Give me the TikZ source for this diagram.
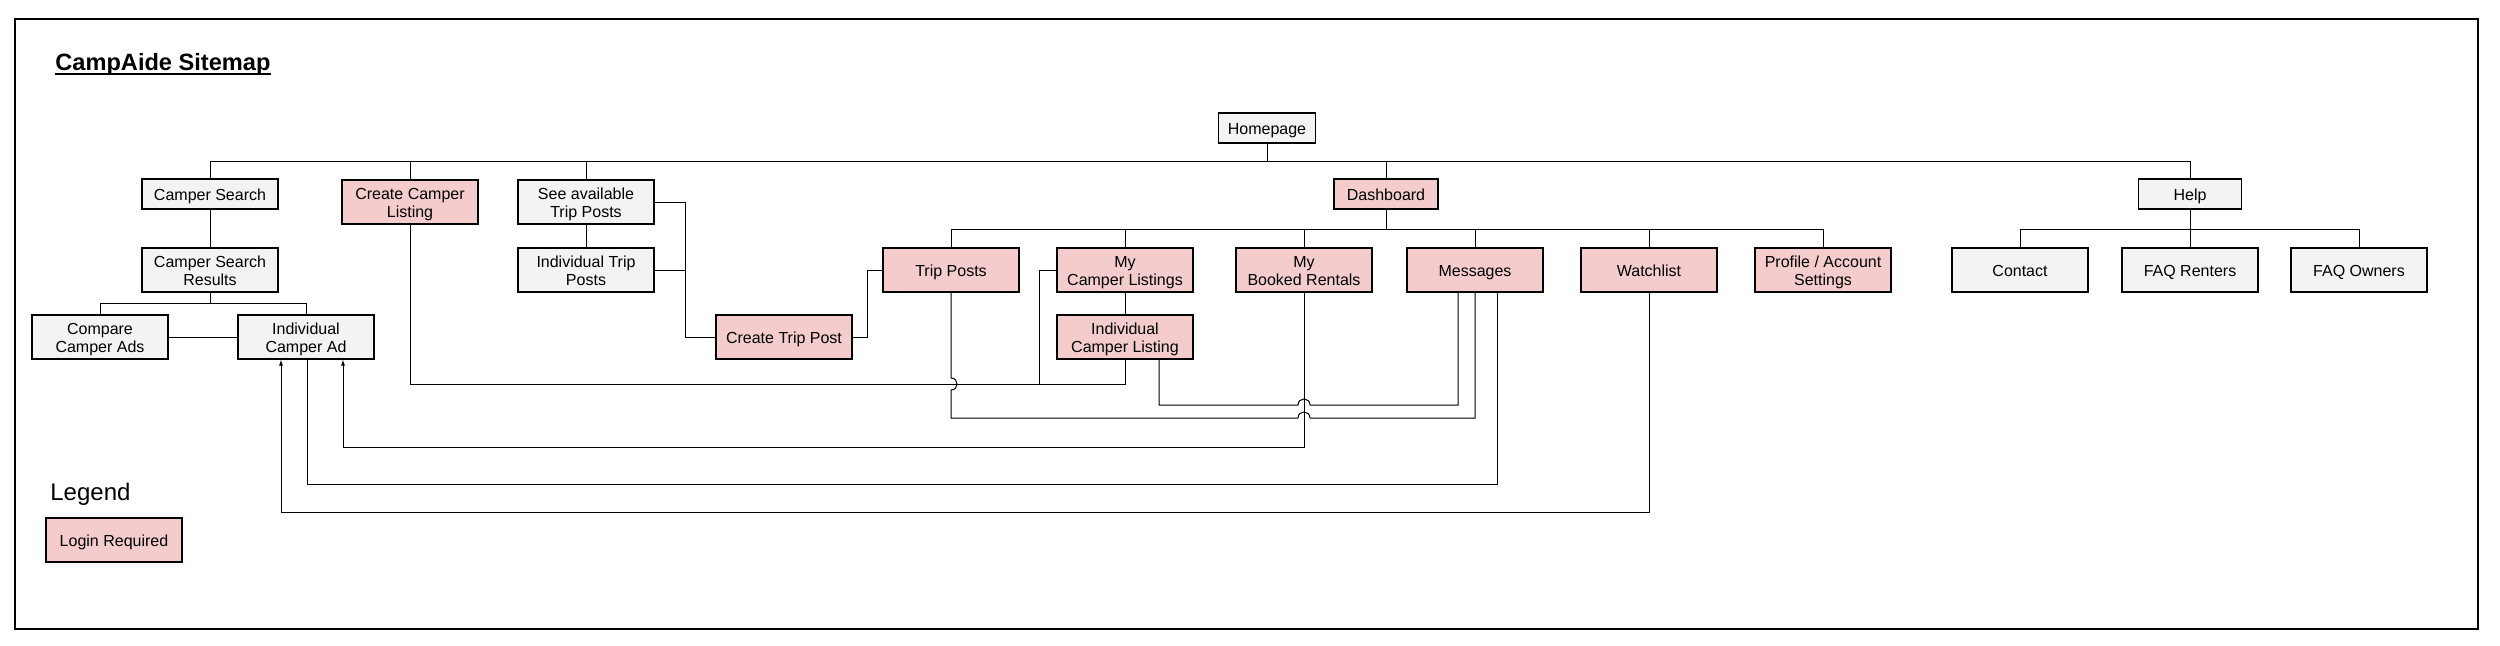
\documentclass[tikz,border=0pt]{standalone}
\usepackage{fontspec}
\setmainfont{Liberation Sans}
\usetikzlibrary{calc,arrows.meta}
\definecolor{pagegray}{HTML}{F3F3F3}
\definecolor{loginpink}{HTML}{F4CCCC}
\tikzset{
  page/.style={draw, fill=pagegray, line width=0.55pt, minimum width=68pt,
    minimum height=22pt, inner sep=0pt, align=center,
    font=\fontsize{8}{9.15}\selectfont, text height=8pt, text depth=1.6pt},
  login/.style={page, fill=loginpink},
  short/.style={minimum height=15pt},
  twolines/.style={text height=17.15pt},
  link/.style={line width=0.5pt},
  uplink/.style={link, -{Latex[length=3pt,width=2pt]}},
}
\begin{document}
\begin{tikzpicture}[x=0.5pt,y=-0.5pt]
\useasboundingbox (0,0) rectangle (2500,645);
\draw[line width=0.7pt] (15,19) rectangle (2478,629);
\node[anchor=base west, inner sep=0pt, font=\fontsize{11.8}{13}\selectfont\bfseries] (title) at (55,70) {CampAide Sitemap};
\draw[line width=1pt] ([yshift=-2pt]title.base west) -- ([yshift=-2pt]title.base east);

% top level
\node[page, short, minimum width=48.5pt] (homepage) at (1267,128) {Homepage};
\node[page, short] (campersearch) at (210,194) {Camper Search};
\node[login, twolines] (createlisting) at (410,202) {Create Camper\\Listing};
\node[page, twolines] (seetrips) at (586,202) {See available\\Trip Posts};
\node[login, short, minimum width=52pt] (dashboard) at (1386,194) {Dashboard};
\node[page, short, minimum width=51.5pt] (help) at (2190,194) {Help};

% second level
\node[page, twolines] (searchresults) at (210,270) {Camper Search\\Results};
\node[page, twolines] (indtrips) at (586,270) {Individual Trip\\Posts};
\node[login] (tripposts) at (951,270) {Trip Posts};
\node[login, twolines] (mylistings) at (1125,270) {My\\Camper Listings};
\node[login, twolines] (myrentals) at (1304,270) {My\\Booked Rentals};
\node[login] (messages) at (1475,270) {Messages};
\node[login] (watchlist) at (1649,270) {Watchlist};
\node[login, twolines] (profile) at (1823,270) {Profile / Account\\Settings};
\node[page] (contact) at (2020,270) {Contact};
\node[page] (faqrenters) at (2190,270) {FAQ Renters};
\node[page] (faqowners) at (2359,270) {FAQ Owners};

% third level
\node[page, twolines] (compare) at (100,337) {Compare\\Camper Ads};
\node[page, twolines] (indad) at (306,337) {Individual\\Camper Ad};
\node[login] (createtrip) at (784,337) {Create Trip Post};
\node[login, twolines] (indlisting) at (1125,337) {Individual\\Camper Listing};

% legend
\node[anchor=base west, inner sep=0pt, font=\fontsize{12}{13}\selectfont] (legend) at (50,500) {Legend};
\node[login] (loginreq) at (114,540) {Login Required};

% rails
\coordinate (topbus) at (0,161);
\coordinate (dashbus) at (0,229);
\coordinate (resultbus) at (0,303);
\coordinate (listbus) at (0,384);
\coordinate (icbus) at (0,405);
\coordinate (tripbus) at (0,418);
\coordinate (rentbus) at (0,447);
\coordinate (msgbus) at (0,484);
\coordinate (watchbus) at (0,512);
\coordinate (tripjoin) at (685,0);
\coordinate (listjoin) at (1039,384);
\coordinate (adL) at ($(indad.south)+(-25,0)$);
\coordinate (adM) at ($(indad.south)+(1,0)$);
\coordinate (adR) at ($(indad.south)+(37,0)$);
\coordinate (msgL) at ($(messages.south)+(-17,0)$);
\coordinate (msgR) at ($(messages.south)+(22,0)$);
\coordinate (ilR) at ($(indlisting.south)+(34,0)$);

% homepage tree
\draw[link] (campersearch.north) -- (campersearch.north |- topbus) -- (help.north |- topbus) -- (help.north);
\draw[link] (homepage.south) -- (homepage.south |- topbus);
\draw[link] (createlisting.north) -- (createlisting.north |- topbus);
\draw[link] (seetrips.north) -- (seetrips.north |- topbus);
\draw[link] (dashboard.north) -- (dashboard.north |- topbus);

% dashboard tree
\draw[link] (tripposts.north) -- (tripposts.north |- dashbus) -- (profile.north |- dashbus) -- (profile.north);
\draw[link] (dashboard.south) -- (dashboard.south |- dashbus);
\draw[link] (mylistings.north) -- (mylistings.north |- dashbus);
\draw[link] (myrentals.north) -- (myrentals.north |- dashbus);
\draw[link] (messages.north) -- (messages.north |- dashbus);
\draw[link] (watchlist.north) -- (watchlist.north |- dashbus);
\draw[link] (mylistings) -- (indlisting);

% help tree
\draw[link] (contact.north) -- (contact.north |- dashbus) -- (faqowners.north |- dashbus) -- (faqowners.north);
\draw[link] (help.south) -- (faqrenters.north);

% camper search tree
\draw[link] (campersearch) -- (searchresults);
\draw[link] (compare.north) -- (compare.north |- resultbus) -- (indad.north |- resultbus) -- (indad.north);
\draw[link] (searchresults.south) -- (searchresults.south |- resultbus);
\draw[link] (compare) -- (indad);

% trip posts
\draw[link] (seetrips) -- (indtrips);
\draw[link] (seetrips.east) -| (tripjoin |- createtrip.west) -- (createtrip.west);
\draw[link] (indtrips.east) -- (indtrips.east -| tripjoin);
\draw[link] (createtrip.east) -- ++(15,0) |- (tripposts.west);

% listings
\draw[link] (createlisting.south) |- (indlisting.south |- listbus) -- (indlisting.south);
\draw[link] (mylistings.west) -| (listjoin);

% cross links
\draw[link] (tripposts.south) -- ($(tripposts.south |- listbus)+(0,-6)$)
  .. controls +(8,0) and +(8,0) .. ($(tripposts.south |- listbus)+(0,6)$)
  -- (tripposts.south |- tripbus) -- ($(myrentals.south |- tripbus)+(-6,0)$)
  .. controls +(0,-8) and +(0,-8) .. ($(myrentals.south |- tripbus)+(6,0)$)
  -- (messages.south |- tripbus) -- (messages.south);
\draw[link] (ilR) |- ($(myrentals.south |- icbus)+(-6,0)$)
  .. controls +(0,-8) and +(0,-8) .. ($(myrentals.south |- icbus)+(6,0)$)
  -| (msgL);
\draw[uplink] (myrentals.south) |- (adR |- rentbus) -- (adR);
\draw[link] (adM) |- (msgR |- msgbus) -- (msgR);
\draw[uplink] (watchlist.south) |- (adL |- watchbus) -- (adL);
\end{tikzpicture}
\end{document}
